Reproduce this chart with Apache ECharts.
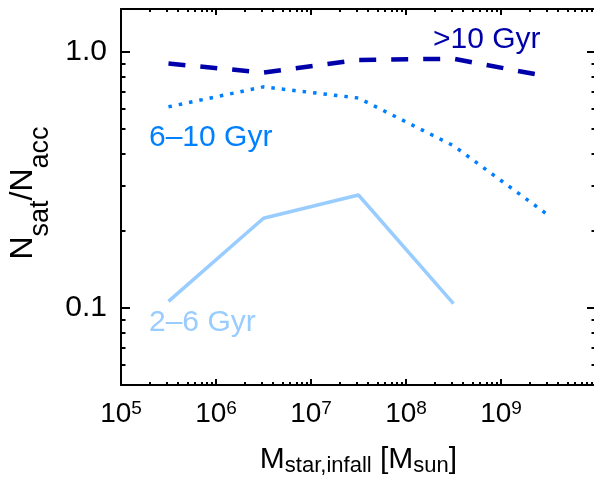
<!DOCTYPE html>
<html>
<head>
<meta charset="utf-8">
<script src="https://cdn.jsdelivr.net/npm/echarts@6/dist/echarts.min.js"></script>
<style>
  html, body { margin: 0; padding: 0; background: #fff; }
  #chart { width: 594px; height: 478px; }
</style>
</head>
<body>
<div id="chart"></div>
<script>
// stellar mass bins (M_sun) and surviving fraction per infall-age group
const massBins = [3.16e5, 3.16e6, 3.16e7, 3.16e8, 3.16e9];
const fracOld = [0.90, 0.83, 0.93, 0.94, 0.80];     // >10 Gyr
const fracMid = [0.61, 0.73, 0.66, 0.43, 0.23];     // 6-10 Gyr
const fracYoung = [0.106, 0.224, 0.276, 0.104];     // 2-6 Gyr

const xMajor = [1e5, 1e6, 1e7, 1e8, 1e9, 1e10];
const xLabels = [1e5, 1e6, 1e7, 1e8, 1e9];
const yMajor = [0.1, 1];
const yLabels = [0.1, 1];

const xMinor = [];
for (let d = 1e5; d < 1e10; d *= 10) {
    for (let k = 2; k <= 9; k++) xMinor.push(k * d);
}
const yMinor = [0.06, 0.07, 0.08, 0.09, 0.2, 0.3, 0.4, 0.5, 0.6, 0.7, 0.8, 0.9];

const FONT = '"Liberation Sans", Arial, Helvetica, sans-serif';
const X_MIN = 1e5, X_MAX = 1e10, Y_MIN = 0.05, Y_MAX = 1.47;

const chart = echarts.init(document.getElementById('chart'));

const frameLine = { show: true, lineStyle: { color: '#000', width: 2 } };

const xAxis = (position, ticks, len, extra) => Object.assign({
    type: 'log',
    position,
    min: X_MIN,
    max: X_MAX,
    axisLine: extra && extra.line ? frameLine : { show: false },
    axisTick: { show: true, inside: true, length: len, customValues: ticks, lineStyle: { color: '#000', width: 2 } },
    axisLabel: { show: false },
    splitLine: { show: false },
    minorTick: { show: false },
}, extra && extra.more);

const yAxis = (position, ticks, len, extra) => Object.assign({
    type: 'log',
    position,
    min: Y_MIN,
    max: Y_MAX,
    axisLine: extra && extra.line ? frameLine : { show: false },
    axisTick: { show: true, inside: true, length: len, customValues: ticks, lineStyle: { color: '#000', width: 2 } },
    axisLabel: { show: false },
    splitLine: { show: false },
    minorTick: { show: false },
}, extra && extra.more);

const option = {
    animation: false,
    backgroundColor: '#fff',
    grid: { left: 121, right: -2, top: 9, bottom: 93, containLabel: false, outerBoundsMode: 'none' },
    xAxis: [
        xAxis('bottom', xMajor, 6, {
            line: true,
            more: {
                axisLabel: {
                    show: true,
                    customValues: xLabels,
                    margin: 14,
                    color: '#000',
                    formatter: v => '{b|10}{s|' + Math.round(Math.log10(v)) + '}',
                    rich: {
                        b: { fontFamily: FONT, fontSize: 28, lineHeight: 30, color: '#000' },
                        s: { fontFamily: FONT, fontSize: 19, lineHeight: 16, verticalAlign: 'top', color: '#000' },
                    },
                },
                name: '{a|M}{s|star,infall}{a| [M}{s|sun}{a|]}',
                nameLocation: 'middle',
                nameGap: 60,
                nameTextStyle: {
                    rich: {
                        a: { fontFamily: FONT, fontSize: 30, lineHeight: 30, verticalAlign: 'top', color: '#000' },
                        s: { fontFamily: FONT, fontSize: 22, lineHeight: 30, padding: [10, 0, 0, 0], verticalAlign: 'top', color: '#000' },
                    },
                },
            },
        }),
        xAxis('bottom', xMinor, 3),
        xAxis('top', xMajor, 6, { line: true }),
        xAxis('top', xMinor, 3),
    ],
    yAxis: [
        yAxis('left', yMajor, 9, {
            line: true,
            more: {
                axisLabel: {
                    show: true,
                    customValues: yLabels,
                    margin: 14,
                    color: '#000',
                    fontFamily: FONT,
                    fontSize: 30,
                    formatter: v => v.toFixed(1),
                },
                name: '{a|N}{s|sat}{a|/N}{s|acc}',
                nameLocation: 'middle',
                nameGap: 81,
                nameTextStyle: {
                    padding: [0, 0, 0, 8],
                    rich: {
                        a: { fontFamily: FONT, fontSize: 32, lineHeight: 30, verticalAlign: 'top', color: '#000' },
                        s: { fontFamily: FONT, fontSize: 27, lineHeight: 30, padding: [20, 0, 0, 0], verticalAlign: 'top', color: '#000' },
                    },
                },
            },
        }),
        yAxis('left', yMinor, 4.5),
        yAxis('right', yMajor, 9, { line: true }),
        yAxis('right', yMinor, 4.5),
    ],
    series: [
        {
            name: '>10 Gyr',
            type: 'line',
            symbol: 'none',
            data: massBins.map((m, i) => [m, fracOld[i]]),
            lineStyle: { color: '#0000AA', width: 4.5, type: [17, 15], cap: 'butt' },
        },
        {
            name: '6-10 Gyr',
            type: 'line',
            symbol: 'none',
            data: massBins.map((m, i) => [m, fracMid[i]]),
            lineStyle: { color: '#0080FF', width: 3.5, type: [3.5, 7], cap: 'butt' },
        },
        {
            name: '2-6 Gyr',
            type: 'line',
            symbol: 'none',
            data: fracYoung.map((f, i) => [massBins[i], f]),
            lineStyle: { color: '#99CCFF', width: 3.5 },
        },
    ],
    graphic: [
        { type: 'text', left: 433, top: 25, style: { text: '>10 Gyr', fill: '#0000AA', font: '30px ' + FONT } },
        { type: 'text', left: 149, top: 123, style: { text: '6\u201310 Gyr', fill: '#0080FF', font: '30px ' + FONT } },
        { type: 'text', left: 149, top: 308, style: { text: '2\u20136 Gyr', fill: '#99CCFF', font: '30px ' + FONT } },
    ],
};

chart.setOption(option);
</script>
</body>
</html>
